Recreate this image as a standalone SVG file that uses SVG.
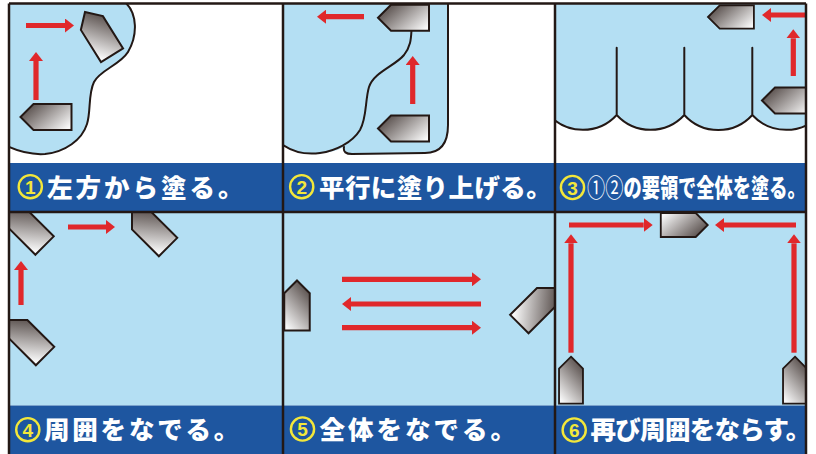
<svg xmlns="http://www.w3.org/2000/svg" width="816" height="454" viewBox="0 0 816 454">
<style>
.water{fill:#b4dff3}
.shore{fill:none;stroke:#231815;stroke-width:2;stroke-linecap:round}
.boat{fill:url(#hull);stroke:#231815;stroke-width:2}
.arrow{stroke:#e0282b;stroke-width:5.2;fill:none;marker-end:url(#head)}
.band{fill:#1e56a0}
.frame{stroke:#231815;stroke-width:2.5;fill:none}
.cap{font-family:"Noto Sans CJK JP","Noto Sans CJK SC",sans-serif;font-weight:900;font-size:25.5px;fill:#fff}
.thin{font-weight:400}
.num circle{fill:none;stroke:#f3e73a;stroke-width:2.4}
.num text{font-family:"Liberation Sans",Arial,sans-serif;font-weight:bold;font-size:19px;fill:#f3e73a;text-anchor:middle}
</style>
<defs>
<linearGradient id="hull" x1="0" y1="0.2" x2="1" y2="0.8">
<stop offset="0" stop-color="#4e4441"/>
<stop offset="1" stop-color="#f8f8f8"/>
</linearGradient>
<!-- hull outline, bow at the origin pointing to -x -->
<path id="boat" d="M0,0 L13,-13 L51,-13 L51,13 L13,13 Z"/>
<marker id="head" markerUnits="userSpaceOnUse" viewBox="0 0 10 14" markerWidth="10" markerHeight="14" refX="0" refY="7" orient="auto">
<path d="M0,0 L9,7 L0,14 Z" fill="#e0282b"/>
</marker>
<clipPath id="c1"><rect x="9" y="3.5" width="274" height="159.5"/></clipPath>
<clipPath id="c2"><rect x="283" y="3.5" width="272" height="159.5"/></clipPath>
<clipPath id="c3"><rect x="555" y="3.5" width="251" height="159.5"/></clipPath>
<clipPath id="c4"><rect x="9" y="212" width="274" height="193.5"/></clipPath>
<clipPath id="c5"><rect x="283" y="212" width="272" height="193.5"/></clipPath>
<clipPath id="c6"><rect x="555" y="212" width="251" height="193.5"/></clipPath>
</defs>

<!-- backgrounds -->
<rect x="9" y="3.5" width="797" height="159.5" fill="#fff"/>
<rect class="water" x="9" y="212" width="797" height="193.5"/>
<rect class="band" x="9" y="163" width="797" height="49"/>
<rect class="band" x="9" y="405.5" width="797" height="48.5"/>

<!-- step 1 -->
<g id="step1" clip-path="url(#c1)">
<path class="water" d="M126,3 C137,14 138,35 128,52 C120,65 100,70 94,82 C88,94 91,112 87,124 C82,140 65,152 45,154 C30,155 18,151 9,147 L9,3 Z"/>
<path class="shore" d="M126,3 C137,14 138,35 128,52 C120,65 100,70 94,82 C88,94 91,112 87,124 C82,140 65,152 45,154 C30,155 18,151 9,147"/>
<use href="#boat" class="boat" transform="translate(20.5,117)"/>
<use href="#boat" class="boat" transform="translate(85,12) rotate(58)"/>
</g>

<!-- step 2 -->
<g id="step2" clip-path="url(#c2)">
<path class="water" d="M283,3 H448 V125 C448,143 441,153 425,153 L352,154 C346,154 343,152 344,147 C336,151 328,153 320,153 C305,155 292,151 283,145 Z"/>
<path class="shore" d="M283,145 C292,151 305,155 320,153 C335,151 352,143 360,130 C367,118 365,100 369,87 C374,72 395,66 404,55 C411,46 411,38 411.5,30"/>
<path class="shore" d="M344,147 C343,152 346,154 352,154 L425,153 C441,153 448,143 448,125 L448,3"/>
<use href="#boat" class="boat" transform="translate(378,17.8)"/>
<use href="#boat" class="boat" transform="translate(378,128.5)"/>
</g>

<!-- step 3 -->
<g id="step3" clip-path="url(#c3)">
<path class="water" d="M549,3 H820 V115 A46,46 0 0 1 752.3,115 A46,46 0 0 1 684.3,115 A46,46 0 0 1 616.7,115 A46,46 0 0 1 549,115 Z"/>
<path class="shore" d="M820,115 A46,46 0 0 1 752.3,115 A46,46 0 0 1 684.3,115 A46,46 0 0 1 616.7,115 A46,46 0 0 1 549,115 M616.7,47.7 V115 M684.3,47.7 V115 M752.3,47.7 V115"/>
<use href="#boat" class="boat" transform="translate(708,17) scale(0.9)"/>
<use href="#boat" class="boat" transform="translate(762,100.5)"/>
</g>

<!-- step 4 -->
<g id="step4" clip-path="url(#c4)">
<use href="#boat" class="boat" transform="translate(8.5,209.5) rotate(45)"/>
<use href="#boat" class="boat" transform="translate(132,211) rotate(45)"/>
<use href="#boat" class="boat" transform="translate(9,320) rotate(45)"/>
</g>

<!-- step 5 -->
<g id="step5" clip-path="url(#c5)">
<use href="#boat" class="boat" transform="translate(297,280.5) rotate(90) scale(0.98)"/>
<use href="#boat" class="boat" transform="translate(555.4,288) rotate(135)"/>
</g>

<!-- step 6 -->
<g id="step6" clip-path="url(#c6)">
<use href="#boat" class="boat" transform="translate(707.7,225) rotate(180) scale(0.92)"/>
<use href="#boat" class="boat" transform="translate(571,356.7) rotate(90) scale(0.92)"/>
<use href="#boat" class="boat" transform="translate(795,356.7) rotate(90) scale(0.92)"/>
</g>

<!-- direction arrows -->
<g id="arrows">
<line class="arrow" x1="26" y1="25.5" x2="65" y2="25.5"/>
<line class="arrow" x1="36" y1="100" x2="36" y2="61"/>
<line class="arrow" x1="364" y1="16.7" x2="326" y2="16.7"/>
<line class="arrow" x1="412.7" y1="104" x2="412.7" y2="65"/>
<line class="arrow" x1="805" y1="15" x2="771" y2="15"/>
<line class="arrow" x1="793.3" y1="76" x2="793.3" y2="38.3"/>
<line class="arrow" x1="68" y1="227" x2="106" y2="227"/>
<line class="arrow" x1="21" y1="305" x2="21" y2="270"/>
<line class="arrow" x1="342" y1="279.3" x2="472" y2="279.3"/>
<line class="arrow" x1="481" y1="304" x2="351" y2="304"/>
<line class="arrow" x1="342" y1="327.7" x2="472" y2="327.7"/>
<line class="arrow" x1="569" y1="225" x2="643.7" y2="225"/>
<line class="arrow" x1="796" y1="225" x2="724" y2="225"/>
<line class="arrow" x1="571" y1="352.7" x2="571" y2="243.3"/>
<line class="arrow" x1="794" y1="352.7" x2="794" y2="243.3"/>
</g>

<!-- frame -->
<g id="frame" class="frame">
<path d="M9,3.5 H806 M9,212 H806 M9,3.5 V454 M806,3.5 V454 M283,3.5 V454 M555,3.5 V454"/>
</g>

<!-- captions -->
<g id="cap1">
<g class="num"><circle cx="30.3" cy="186.7" r="11.6"/><text x="30.3" y="193.7">1</text></g>
<text class="cap" x="47" y="197" letter-spacing="3">左方から塗る。</text>
</g>
<g id="cap2">
<g class="num"><circle cx="301.7" cy="186.7" r="11.6"/><text x="301.7" y="193.7">2</text></g>
<text class="cap" x="319" y="197" letter-spacing="0.4">平行に塗り上げる。</text>
</g>
<g id="cap3">
<g class="num"><circle cx="572.5" cy="187.5" r="11.6"/><text x="572.5" y="194.5">3</text></g>
<!-- condensed caption: horizontal squeeze keeps it inside the cell -->
<text class="cap" transform="translate(587,197) scale(0.715,1)"><tspan class="thin">①②</tspan>の要領で全体を塗る。</text>
</g>
<g id="cap4">
<g class="num"><circle cx="27.8" cy="429.7" r="11.6"/><text x="27.8" y="436.7">4</text></g>
<text class="cap" x="44" y="439" letter-spacing="2.8">周囲をなでる。</text>
</g>
<g id="cap5">
<g class="num"><circle cx="302.5" cy="429" r="11.6"/><text x="302.5" y="436">5</text></g>
<text class="cap" x="319.5" y="439" letter-spacing="3">全体をなでる。</text>
</g>
<g id="cap6">
<g class="num"><circle cx="574.2" cy="430" r="11.6"/><text x="574.2" y="437">6</text></g>
<text class="cap" x="590.5" y="439" letter-spacing="-0.7">再び周囲をならす。</text>
</g>
</svg>
